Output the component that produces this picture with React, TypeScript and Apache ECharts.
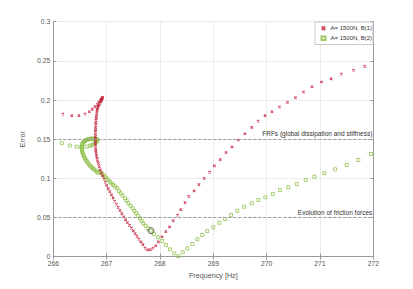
import React, { useEffect, useRef } from "react";
import * as echarts from "echarts";

const xTicks = [266, 267, 268, 269, 270, 271, 272];
const yTicks = [0, 0.05, 0.1, 0.15, 0.2, 0.25, 0.3];

const seriesNames = ["A= 1500N, B(1)", "A= 1500N, B(2)"];

const redFreq = [
  266.18, 266.345, 266.48, 266.595, 266.675, 266.73, 266.78, 266.825, 266.855, 266.885,
  266.9, 266.91, 266.92, 266.925, 266.915, 266.905, 266.89, 266.875, 266.86, 266.845,
  266.835, 266.825, 266.82, 266.815, 266.81, 266.805, 266.8, 266.797, 266.795, 266.793,
  266.792, 266.791, 266.79, 266.79, 266.79, 266.79, 266.79, 266.791, 266.793, 266.797,
  266.803, 266.81, 266.82, 266.83, 266.845, 266.86, 266.88, 266.9, 266.925, 266.95,
  266.975, 267.0, 267.03, 267.06, 267.09, 267.12, 267.15, 267.185, 267.215, 267.25,
  267.285, 267.32, 267.355, 267.39, 267.43, 267.465, 267.5, 267.535, 267.57, 267.605,
  267.64, 267.68, 267.72, 267.77, 267.82, 267.87, 267.92, 267.97, 268.04, 268.11,
  268.18, 268.25, 268.33, 268.39, 268.47, 268.54, 268.64, 268.73, 268.83, 268.93,
  269.02, 269.13, 269.24, 269.35, 269.47, 269.59, 269.72, 269.84, 269.97, 270.1,
  270.24, 270.39, 270.54, 270.69, 270.85, 271.03, 271.21, 271.4, 271.63, 271.84,
];
const redErr = [
  0.182, 0.18, 0.18, 0.182, 0.185, 0.188, 0.1915, 0.1945, 0.1975, 0.1995,
  0.201, 0.202, 0.203, 0.2035, 0.2015, 0.1995, 0.1975, 0.196, 0.194, 0.1925,
  0.1905, 0.1885, 0.186, 0.183, 0.18, 0.177, 0.174, 0.171, 0.168, 0.165,
  0.162, 0.159, 0.156, 0.153, 0.15, 0.147, 0.144, 0.141, 0.138, 0.135,
  0.132, 0.129, 0.126, 0.1225, 0.119, 0.115, 0.111, 0.107, 0.103, 0.099,
  0.095, 0.091, 0.087, 0.083, 0.079, 0.075, 0.071, 0.067, 0.063, 0.059,
  0.055, 0.051, 0.047, 0.0435, 0.04, 0.0365, 0.033, 0.0295, 0.026, 0.0225,
  0.019, 0.0155, 0.011, 0.0088, 0.009, 0.0108, 0.014, 0.019, 0.0255, 0.032,
  0.038, 0.046, 0.053, 0.06, 0.069, 0.077, 0.084, 0.092, 0.1, 0.108,
  0.116, 0.124, 0.133, 0.14, 0.149, 0.157, 0.165, 0.173, 0.18, 0.185,
  0.191, 0.197, 0.203, 0.21, 0.217, 0.223, 0.227, 0.233, 0.238, 0.243,
];

const greenFreq = [
  266.16, 266.31, 266.44, 266.53, 266.625, 266.69, 266.72, 266.76, 266.79, 266.815,
  266.828, 266.82, 266.8, 266.77, 266.745, 266.72, 266.695, 266.67, 266.645, 266.62,
  266.595, 266.575, 266.56, 266.545, 266.537, 266.533, 266.533, 266.538, 266.545, 266.553,
  266.563, 266.575, 266.59, 266.605, 266.625, 266.645, 266.665, 266.69, 266.715, 266.74,
  266.765, 266.79, 266.815, 266.845, 266.876, 266.91, 266.94, 266.97, 267.0, 267.03,
  267.063, 267.095, 267.125, 267.16, 267.2, 267.23, 267.264, 267.3, 267.344, 267.375,
  267.406, 267.45, 267.489, 267.52, 267.551, 267.59, 267.626, 267.655, 267.688, 267.73,
  267.77, 267.832, 267.888, 267.969, 268.044, 268.113, 268.188, 268.269, 268.344, 268.426,
  268.513, 268.606, 268.7, 268.794, 268.888, 269.0, 269.113, 269.22, 269.332, 269.45,
  269.581, 269.72, 269.844, 269.975, 270.114, 270.251, 270.407, 270.564, 270.733, 270.894,
  271.082, 271.282, 271.501, 271.719, 271.957,
];
const greenErr = [
  0.145, 0.142, 0.1405, 0.14, 0.1405, 0.1415, 0.1425, 0.144, 0.1455, 0.147,
  0.1485, 0.1497, 0.15, 0.1505, 0.1507, 0.1507, 0.1505, 0.15, 0.1495, 0.149,
  0.148, 0.147, 0.1455, 0.144, 0.142, 0.14, 0.138, 0.136, 0.134, 0.132,
  0.13, 0.128, 0.126, 0.124, 0.122, 0.12, 0.118, 0.116, 0.1145, 0.113,
  0.1115, 0.11, 0.1085, 0.107, 0.1085, 0.1065, 0.1043, 0.1022, 0.1, 0.098,
  0.0957, 0.0936, 0.0915, 0.0895, 0.0873, 0.084, 0.081, 0.078, 0.0746, 0.0715,
  0.0682, 0.065, 0.0618, 0.0585, 0.0554, 0.052, 0.049, 0.0458, 0.0426, 0.0395,
  0.0363, 0.0332, 0.029, 0.0247, 0.02, 0.0149, 0.0094, 0.0043, 0.0005, 0.0056,
  0.0107, 0.0162, 0.0222, 0.0277, 0.0328, 0.0375, 0.0434, 0.0481, 0.0532, 0.0587,
  0.0638, 0.0682, 0.0724, 0.0758, 0.08, 0.0852, 0.0886, 0.0928, 0.0979, 0.1021,
  0.1065, 0.1116, 0.1171, 0.1235, 0.1311,
];

const highlightPoint = [267.832, 0.0332];
const refLines = [
  { value: 0.15, text: "FRFs (global dissipation and stiffness)" },
  { value: 0.05, text: "Evolution of friction forces" },
];

const RED = "#c41e3a";
const GREEN = "#86bc3f";
const FONT = "Liberation Sans, Arial, sans-serif";

export default function App() {
  const ref = useRef<HTMLDivElement>(null);
  useEffect(() => {
    if (!ref.current) return;
    const chart = echarts.init(ref.current, null, { renderer: "svg" });
    const redData = redFreq.map((f, i) => [f, redErr[i]]);
    const greenData = greenFreq.map((f, i) => [f, greenErr[i]]);
    const axisLineStyle = { color: "#9a9a9a", width: 1 };
    chart.setOption({
      animation: false,
      textStyle: { fontFamily: FONT },
      grid: { left: 53.3, top: 21.7, right: 39.7, bottom: 32.3 },
      legend: {
        orient: "vertical",
        right: 40,
        top: 22,
        itemWidth: 4,
        itemHeight: 3.5,
        itemGap: 1.5,
        padding: [2, 1, 2, 4],
        backgroundColor: "#fff",
        borderColor: "#c8c8c8",
        borderWidth: 1,
        borderRadius: 0,
        textStyle: { fontSize: 6, color: "#333", fontFamily: FONT },
        data: seriesNames,
      },
      xAxis: [
        {
          type: "value",
          min: 266,
          max: 272,
          interval: 1,
          name: "Frequency [Hz]",
          nameLocation: "middle",
          nameGap: 12,
          nameTextStyle: { fontSize: 7.2, color: "#555", fontFamily: FONT },
          axisLine: { show: true, lineStyle: axisLineStyle },
          axisTick: { show: true, inside: true, length: 3, lineStyle: axisLineStyle },
          axisLabel: {
            fontSize: 6.8, color: "#555", margin: 3, fontFamily: FONT,
            formatter: (v: number) => (xTicks.includes(v) ? String(v) : ""),
          },
          splitLine: { show: true, lineStyle: { color: "#ececec", width: 1 } },
        },
        {
          type: "value",
          position: "top",
          min: 266,
          max: 272,
          interval: 1,
          axisLine: { show: true, lineStyle: axisLineStyle },
          axisTick: { show: true, inside: true, length: 3, lineStyle: axisLineStyle },
          axisLabel: { show: false },
          splitLine: { show: false },
        },
      ],
      yAxis: [
        {
          type: "value",
          min: 0,
          max: 0.3,
          interval: 0.05,
          name: "Error",
          nameLocation: "middle",
          nameGap: 17,
          nameTextStyle: { fontSize: 7.2, color: "#555", fontFamily: FONT },
          axisLine: { show: true, lineStyle: axisLineStyle },
          axisTick: { show: true, inside: true, length: 3, lineStyle: axisLineStyle },
          axisLabel: {
            fontSize: 6.8, color: "#555", margin: 3, fontFamily: FONT,
            formatter: (v: number) => {
              const t = yTicks.find((y) => Math.abs(y - v) < 1e-9);
              return t === undefined ? "" : String(t);
            },
          },
          splitLine: { show: true, lineStyle: { color: "#ececec", width: 1 } },
        },
        {
          type: "value",
          position: "right",
          min: 0,
          max: 0.3,
          interval: 0.05,
          axisLine: { show: true, lineStyle: axisLineStyle },
          axisTick: { show: true, inside: true, length: 3, lineStyle: axisLineStyle },
          axisLabel: { show: false },
          splitLine: { show: false },
        },
      ],
      series: [
        {
          name: seriesNames[0],
          type: "scatter",
          symbol: "path://M0,0L10,10M10,0L0,10",
          symbolSize: 2.4,
          itemStyle: { color: "none", borderColor: RED, borderWidth: 1.1 },
          data: redData,
          z: 3,
          markLine: {
            silent: true,
            symbol: "none",
            lineStyle: { type: [3, 2], color: "#9a9a9a", width: 1 },
            label: {
              show: true,
              position: "insideEndTop",
              distance: [1, 2],
              fontSize: 6.5,
              color: "#333",
              fontFamily: FONT,
              formatter: (p: any) => p.name,
            },
            data: refLines.map((r) => ({ yAxis: r.value, name: r.text })),
          },
        },
        {
          name: seriesNames[1],
          type: "scatter",
          symbol: "rect",
          symbolSize: 3,
          itemStyle: { color: "none", borderColor: GREEN, borderWidth: 0.9 },
          data: greenData,
          z: 2,
        },
        {
          name: "marker",
          type: "scatter",
          symbol: "circle",
          symbolSize: 6,
          itemStyle: { color: "none", borderColor: "#333", borderWidth: 1 },
          data: [highlightPoint],
          z: 4,
        },
      ],
    });
    return () => chart.dispose();
  }, []);
  return (
    <div
      ref={ref}
      style={{ position: "fixed", left: 0, top: 0, width: 413, height: 289, background: "#fff" }}
    />
  );
}
